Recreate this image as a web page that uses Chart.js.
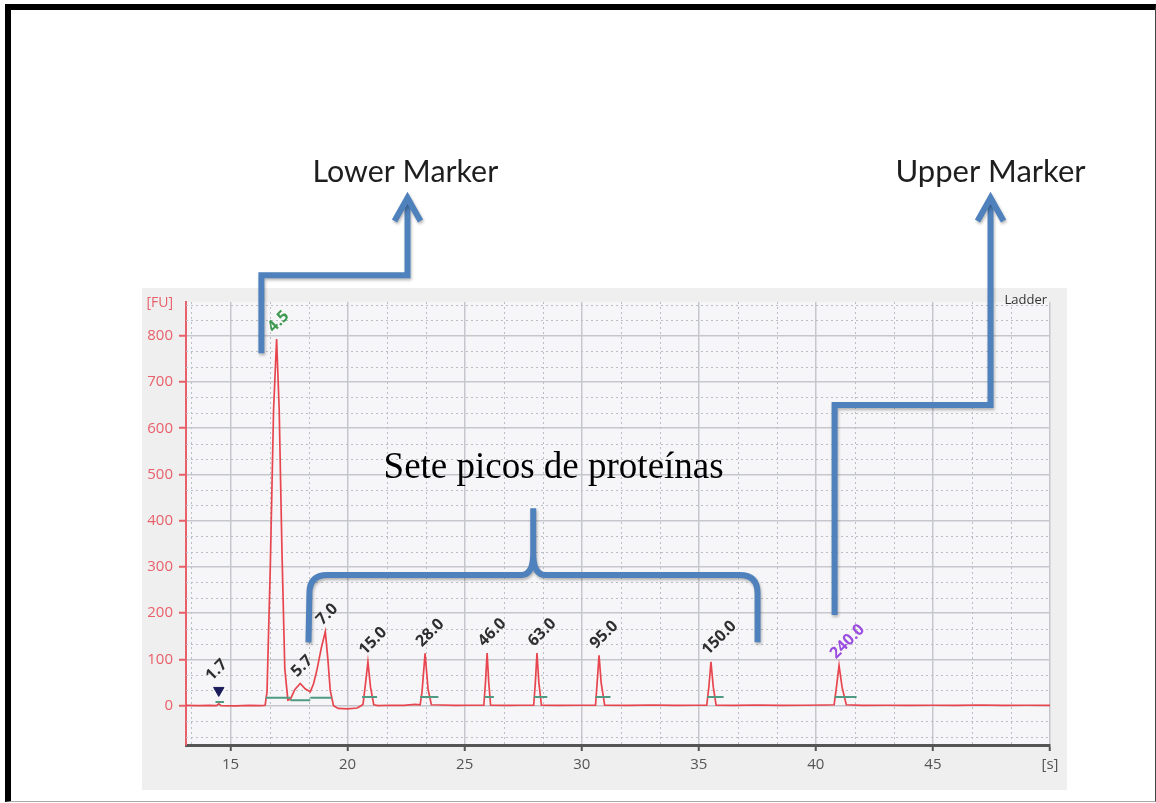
<!DOCTYPE html>
<html>
<head>
<meta charset="utf-8">
<script src="https://cdn.jsdelivr.net/npm/chart.js@4.4.1/dist/chart.umd.min.js"></script>
<style>
  html, body { margin: 0; padding: 0; background: #fff; width: 1156px; height: 803px; overflow: hidden; }
  #frame { position: absolute; left: 5px; top: 4px; width: 1144px; height: 791px;
           border-top: 6px solid #000; border-left: 6px solid #000;
           border-right: 1px solid #444; border-bottom: 1px solid #aaa; }
  #c { position: absolute; left: 0; top: 0; }
</style>
</head>
<body>
<div id="frame"></div>
<canvas id="c" width="1156" height="803"></canvas>
<script>
// Electropherogram trace: migration time [s] and fluorescence [FU]
const traceTime = [
  13.10, 13.60, 14.10, 14.40, 14.50, 14.60, 15.20, 15.80, 16.30, 16.48,
  16.56, 16.70, 16.84, 16.97, 17.08, 17.20, 17.32, 17.45,
  17.56, 17.75, 17.98, 18.20, 18.41,
  18.55, 18.69, 18.88, 19.05, 19.16, 19.26, 19.40,
  19.60, 20.00, 20.41, 20.58,
  20.66, 20.76, 20.87, 20.98, 21.12, 21.30,
  21.80, 22.40, 22.90, 23.10,
  23.18, 23.31, 23.44, 23.58, 24.00, 24.60, 25.20,
  25.82, 25.89, 25.96, 26.03, 26.11, 26.80, 27.40,
  27.95, 28.02, 28.09, 28.17, 28.28, 29.00, 29.80,
  30.59, 30.66, 30.74, 30.83, 30.98, 32.00, 33.00, 34.00, 34.80,
  35.34, 35.43, 35.52, 35.62, 35.74, 36.50, 37.50, 38.50, 39.50, 40.40,
  40.78, 40.88, 40.99, 41.12, 41.30, 42.00, 43.00, 44.00, 45.00, 46.00,
  47.00, 48.00, 49.00, 50.00
];
const traceFU = [
  0.5, 0, 0.8, 0, 4, 0, -0.5, 0.5, 0, 1,
  30, 300, 640, 793, 640, 330, 80, 12,
  14, 35, 48, 36, 30,
  48, 77, 125, 160, 100, 33, 0,
  -6, -7, -5, 0,
  3, 45, 95, 40, 2, 0,
  1, 0.5, 3, 2,
  30, 113, 35, 2, 1.5, 0.5, 1,
  1, 50, 114, 50, 1, 0.5, 1,
  1, 50, 114, 50, 1, 0.5, 1,
  1, 50, 109, 50, 1, 0.5, 1.5, 0.5, 1,
  1, 40, 95, 40, 1, 0.5, 1.5, 0.5, 1, 1.5,
  2, 40, 87, 40, 2, 0.5, 1, 0.5, 1, 0.5,
  1.5, 0.5, 1, 0.5
];

// Ladder peaks: size labels, apex time [s] and apex height [FU]
const peakLabels = ['1.7', '4.5', '5.7', '7.0', '15.0', '28.0', '46.0', '63.0', '95.0', '150.0', '240.0'];
const peakTime   = [14.50, 16.97, 17.98, 19.05, 20.87, 23.31, 25.96, 28.09, 30.74, 35.52, 40.99];
const peakFU     = [4, 793, 48, 160, 95, 113, 114, 114, 109, 95, 87];

// Alignment marker (triangle) on the first ladder peak
const alignTime = [14.50];
const alignFU   = [33];

// Integration baselines under each peak
const baseStart = [14.36, 16.50, 17.56, 18.41, 20.62, 23.10, 25.85, 27.96, 30.59, 35.36, 40.80];
const baseEnd   = [14.72, 17.56, 18.41, 19.32, 21.26, 23.88, 26.25, 28.53, 31.23, 36.06, 41.74];
const baseFU    = [8, 17, 12, 17, 19, 19, 19, 19, 19, 19, 19];

// Axis ticks
const xTicks = [15, 20, 25, 30, 35, 40, 45, 50];
const yTicks = [0, 100, 200, 300, 400, 500, 600, 700, 800];

const lowerMarkerIdx = 1;
const upperMarkerIdx = peakLabels.length - 1;

const RED = '#e8606a';
const GRID = '#c5c7cd';
const BLUE = '#4f81bd';

const tracePoints = traceTime.map((t, i) => ({ x: t, y: traceFU[i] }));
const basePoints = [];
baseStart.forEach((s, i) => {
  basePoints.push({ x: s, y: baseFU[i] }, { x: baseEnd[i], y: baseFU[i] }, { x: baseEnd[i], y: null });
});
const alignPoints = alignTime.map((t, i) => ({ x: t, y: alignFU[i] }));

// Grey panel behind the electropherogram and the plot background
const panel = {
  id: 'panel',
  beforeDraw(chart) {
    const { ctx, chartArea: a } = chart;
    ctx.save();
    ctx.fillStyle = '#efefef';
    ctx.fillRect(142, 288, 925, 502);
    ctx.fillStyle = '#f6f6f8';
    ctx.fillRect(a.left, a.top, a.right - a.left, a.bottom - a.top);
    ctx.restore();
  }
};

// Dotted minor grid, three divisions per major step
const minorGrid = {
  id: 'minorGrid',
  beforeDatasetsDraw(chart) {
    const { ctx, chartArea: a, scales: { x, y } } = chart;
    const xs = 5 / 3, ys = 100 / 3;
    ctx.save();
    ctx.strokeStyle = '#bcbec5';
    ctx.lineWidth = 1;
    ctx.setLineDash([2, 3]);
    for (let k = Math.ceil(x.min / xs); k * xs <= x.max; k++) {
      if (k % 3 === 0) continue;
      const px = Math.round(x.getPixelForValue(k * xs)) + 0.5;
      ctx.beginPath(); ctx.moveTo(px, a.top); ctx.lineTo(px, a.bottom); ctx.stroke();
    }
    for (let k = Math.ceil(y.min / ys); k * ys <= y.max; k++) {
      if (k % 3 === 0) continue;
      const py = Math.round(y.getPixelForValue(k * ys)) + 0.5;
      ctx.beginPath(); ctx.moveTo(a.left, py); ctx.lineTo(a.right, py); ctx.stroke();
    }
    ctx.restore();
  }
};

// Rotated size labels above the peaks, axis units and the run name
const peakText = {
  id: 'peakText',
  afterDatasetsDraw(chart) {
    const { ctx, scales: { x, y } } = chart;
    ctx.save();
    ctx.font = 'bold 16px "Open Sans"';
    ctx.textAlign = 'left';
    ctx.textBaseline = 'alphabetic';
    peakLabels.forEach((lab, i) => {
      let px = x.getPixelForValue(peakTime[i]) - 3;
      let py = y.getPixelForValue(peakFU[i]) - 6;
      if (i === 0) {
        px = x.getPixelForValue(alignTime[0]) - 7;
        py = y.getPixelForValue(alignFU[0]) - 9;
      }
      ctx.fillStyle = i === lowerMarkerIdx ? '#3d9a50' : i === upperMarkerIdx ? '#9b4de0' : '#2e2e2e';
      ctx.save();
      ctx.translate(px, py);
      ctx.rotate(-Math.PI / 4);
      ctx.fillText(lab, 0, 0);
      ctx.restore();
    });
    const a = chart.chartArea;
    ctx.font = '14px "Open Sans"';
    ctx.fillStyle = RED;
    ctx.textAlign = 'right';
    ctx.textBaseline = 'middle';
    ctx.fillText('[FU]', a.left - 13, a.top + 1);
    ctx.font = '13px "Open Sans"';
    ctx.fillStyle = '#333';
    ctx.fillText('Ladder', a.right - 3, a.top - 2);
    ctx.restore();
  }
};

// Callouts: marker arrows, bracket over the protein peaks and captions
const callouts = {
  id: 'callouts',
  afterDraw(chart) {
    const { ctx, scales: { x, y } } = chart;
    const P = (t, f) => [x.getPixelForValue(t), y.getPixelForValue(f)];

    const fitText = (text, family, weight, width, t, f) => {
      ctx.font = `${weight} 100px ${family}`;
      const size = 100 * width / ctx.measureText(text).width;
      ctx.font = `${weight} ${size.toFixed(1)}px ${family}`;
      const [cx, by] = P(t, f);
      ctx.fillText(text, cx, by);
    };

    const arrow = (pts) => {
      const q = pts.map(p => P(p[0], p[1]));
      ctx.beginPath();
      ctx.moveTo(q[0][0], q[0][1]);
      for (let i = 1; i < q.length; i++) ctx.lineTo(q[i][0], q[i][1]);
      ctx.stroke();
      const [tx, ty] = q[q.length - 1];
      ctx.beginPath();
      ctx.moveTo(tx - 13, ty + 23);
      ctx.lineTo(tx, ty);
      ctx.lineTo(tx + 13, ty + 23);
      ctx.stroke();
    };

    ctx.save();
    ctx.strokeStyle = BLUE;
    ctx.lineWidth = 6;
    ctx.lineJoin = 'miter';
    ctx.lineCap = 'butt';
    ctx.shadowColor = 'rgba(0,0,0,0.28)';
    ctx.shadowBlur = 3;
    ctx.shadowOffsetX = 1;
    ctx.shadowOffsetY = 2;

    arrow([[16.32, 762], [16.32, 931], [22.56, 931], [22.56, 1098]]);
    arrow([[40.80, 196], [40.80, 650], [47.46, 650], [47.46, 1098]]);

    // curly bracket
    const [L, yb] = P(18.33, 137);
    const [M, yh] = P(27.93, 282.5);
    const [R] = P(37.51, 0);
    const [, yt] = P(0, 427);
    const r = 18;
    ctx.lineJoin = 'round';
    ctx.beginPath();
    ctx.moveTo(L, yb);
    ctx.lineTo(L + 1, yh + r);
    ctx.quadraticCurveTo(L + 1, yh, L + 1 + r, yh);
    ctx.lineTo(M - 12, yh);
    ctx.quadraticCurveTo(M, yh, M, yh - 22);
    ctx.lineTo(M, yt);
    ctx.moveTo(M, yh - 22);
    ctx.quadraticCurveTo(M, yh, M + 12, yh);
    ctx.lineTo(R - r, yh);
    ctx.quadraticCurveTo(R, yh, R, yh + r);
    ctx.lineTo(R, yb);
    ctx.stroke();
    ctx.restore();

    ctx.save();
    ctx.textAlign = 'center';
    ctx.textBaseline = 'alphabetic';
    ctx.fillStyle = '#1e1e1e';
    fitText('Lower Marker', 'Lato', 'normal', 186, 22.47, 1133);
    fitText('Upper Marker', 'Lato', 'normal', 190, 47.46, 1133);
    ctx.fillStyle = '#000';
    fitText('Sete picos de proteínas', '"Liberation Serif"', 'normal', 340, 28.80, 492);
    ctx.restore();
  }
};

Chart.defaults.font.family = '"Open Sans", "DejaVu Sans", sans-serif';

new Chart(document.getElementById('c'), {
  type: 'line',
  data: {
    datasets: [
      {
        label: 'Baselines',
        data: basePoints,
        borderColor: '#4f9a80',
        borderWidth: 2,
        pointRadius: 0,
        spanGaps: false,
        order: 0
      },
      {
        label: 'Alignment',
        data: alignPoints,
        showLine: false,
        pointStyle: 'triangle',
        rotation: 180,
        pointRadius: 6,
        backgroundColor: '#1c1c5c',
        borderColor: '#1c1c5c',
        order: 0
      },
      {
        label: 'Ladder',
        data: tracePoints,
        borderColor: '#e8464f',
        borderWidth: 1.7,
        pointRadius: 0,
        tension: 0,
        order: 2
      }
    ]
  },
  options: {
    responsive: false,
    animation: false,
    devicePixelRatio: 1,
    layout: { padding: { left: 140, right: 106, top: 302, bottom: 13 } },
    plugins: { legend: { display: false }, tooltip: { enabled: false } },
    scales: {
      x: {
        type: 'linear',
        min: 13.1,
        max: 50,
        afterBuildTicks: s => { s.ticks = xTicks.map(v => ({ value: v })); },
        afterFit: s => { s.height = 45; },
        ticks: {
          color: '#555',
          font: { size: 15 },
          padding: 5,
          maxRotation: 0,
          autoSkip: false,
          callback: v => (v === 50 ? '[s]' : String(v))
        },
        grid: { color: GRID, lineWidth: 1.5, tickLength: 6, tickColor: '#555', tickWidth: 2 },
        border: { color: '#555', width: 3 }
      },
      y: {
        min: -85,
        max: 873,
        afterBuildTicks: s => { s.ticks = yTicks.map(v => ({ value: v })); },
        afterFit: s => { s.width = 46; },
        ticks: { color: RED, font: { size: 15 }, padding: 6 },
        grid: { color: GRID, lineWidth: 1.5, tickLength: 7, tickColor: RED, tickWidth: 2 },
        border: { color: RED, width: 2 }
      }
    }
  },
  plugins: [panel, minorGrid, peakText, callouts]
});
</script>
</body>
</html>
